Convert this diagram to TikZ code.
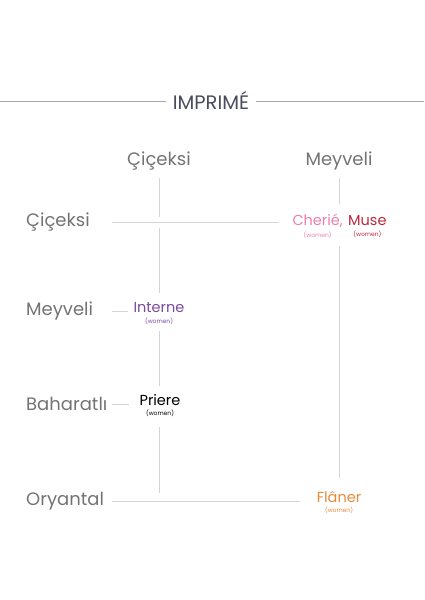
\documentclass[tikz,border=0pt]{standalone}
\usepackage{fontspec}
\setmainfont{Poppins}
\usetikzlibrary{positioning,calc}
\definecolor{labelgray}{HTML}{737373}
\definecolor{rulegray}{HTML}{D4D4D4}
\definecolor{titlegray}{HTML}{A8A8B0}
\definecolor{titleink}{HTML}{4A4C5C}
\definecolor{cheriepink}{HTML}{E87FAE}
\definecolor{musered}{HTML}{B8283C}
\definecolor{internepurple}{HTML}{7A4A9C}
\definecolor{flanerorange}{HTML}{E8893A}

\tikzset{
	axis/.style={font=\fontsize{18}{21}\selectfont, text=labelgray, inner sep=0pt},
	scent/.style={font=\fontsize{14.5}{17}\selectfont, inner sep=0pt},
	who/.style={font=\fontsize{6}{7}\selectfont, inner sep=0pt},
	rule/.style={draw=rulegray, line width=0.9pt}
}

\begin{document}
\begin{tikzpicture}[x=1pt,y=-1pt]
\useasboundingbox (0,0) rectangle (424,600);

\pgfmathsetmacro{\colAx}{159}
\pgfmathsetmacro{\colBx}{339}
\pgfmathsetmacro{\lineLx}{112}
\pgfmathsetmacro{\rowAy}{222}
\pgfmathsetmacro{\rowBy}{311}
\pgfmathsetmacro{\rowCy}{404}
\pgfmathsetmacro{\rowDy}{501}

\node[font=\fontsize{19.5}{22}\selectfont, text=titleink, inner sep=0pt] (title) at (211,100) {IMPRIMÉ};
\coordinate (titleL) at (0,101);
\coordinate (titleR) at (424,101);
\draw[draw=titlegray, line width=0.8pt] ($(title.west |- titleL)+(-7,0)$) -- (titleL);
\draw[draw=titlegray, line width=0.8pt] ($(title.east |- titleR)+(7,0)$) -- (titleR);

\node[axis] (colA) at (\colAx,161) {Çiçeksi};
\node[axis] (colB) at (\colBx,161) {Meyveli};

\node[axis, anchor=west] (rowA) at (26,\rowAy) {Çiçeksi};
\node[axis, anchor=west] (rowB) at (26,\rowBy) {Meyveli};
\node[axis, anchor=west] (rowC) at (26,\rowCy) {Baharatlı};
\node[axis, anchor=west] (rowD) at (26,\rowDy) {Oryantal};

\node[scent, text=cheriepink, anchor=east] (cherie) at (343,221) {Cherié,};
\node[scent, text=musered, right=5pt of cherie] (muse) {Muse};
\node[who, text=cheriepink, below=4pt of cherie] (cherieW) {(women)};
\node[who, text=musered, below=4pt of muse] (museW) {(women)};

\node[scent, text=internepurple] (interne) at (\colAx,308) {Interne};
\node[who, text=internepurple, below=4pt of interne] (interneW) {(women)};

\node[scent, text=black] (priere) at (160,400) {Priere};
\node[who, text=black, below=4pt of priere] (priereW) {(women)};

\node[scent, text=flanerorange] (flaner) at (\colBx,497) {Flâner};
\node[who, text=flanerorange, below=4pt of flaner] (flanerW) {(women)};

\coordinate (hopAtop) at (\colAx,217);
\coordinate (hopAbot) at (\colAx,228);
\coordinate (endA) at (\colAx,493);
\coordinate (endB) at (\colBx,478);
\coordinate (startA) at (\lineLx,\rowAy);
\coordinate (startB) at (\lineLx,\rowBy);
\coordinate (startC) at (\lineLx,\rowCy);
\coordinate (startD) at (\lineLx,\rowDy);

\draw[rule] ($(colA.south)+(0,8)$) -- (hopAtop);
\draw[rule] (hopAbot) -- ($(interne.north)+(0,-10)$);
\draw[rule] ($(interneW.south)+(0,7)$) -- ($(priere.north -| interneW.south)+(0,-8)$);
\draw[rule] ($(priereW.south -| endA)+(0,10)$) -- (endA);

\draw[rule] ($(colB.south)+(0,8)$) -- ($(cherie.north -| colB)+(0,-10)$);
\draw[rule] ($(museW.south -| colB)+(0,9)$) -- (endB);

\draw[rule] (startA) -- ($(startA -| cherie.west)+(-13,0)$);
\draw[rule] (startB) -- ($(startB -| interne.west)+(-5,0)$);
\draw[rule] (startC) -- ($(startC -| priere.west)+(-10,0)$);
\draw[rule] (startD) -- ($(startD -| flaner.west)+(-17,0)$);
\end{tikzpicture}
\end{document}
